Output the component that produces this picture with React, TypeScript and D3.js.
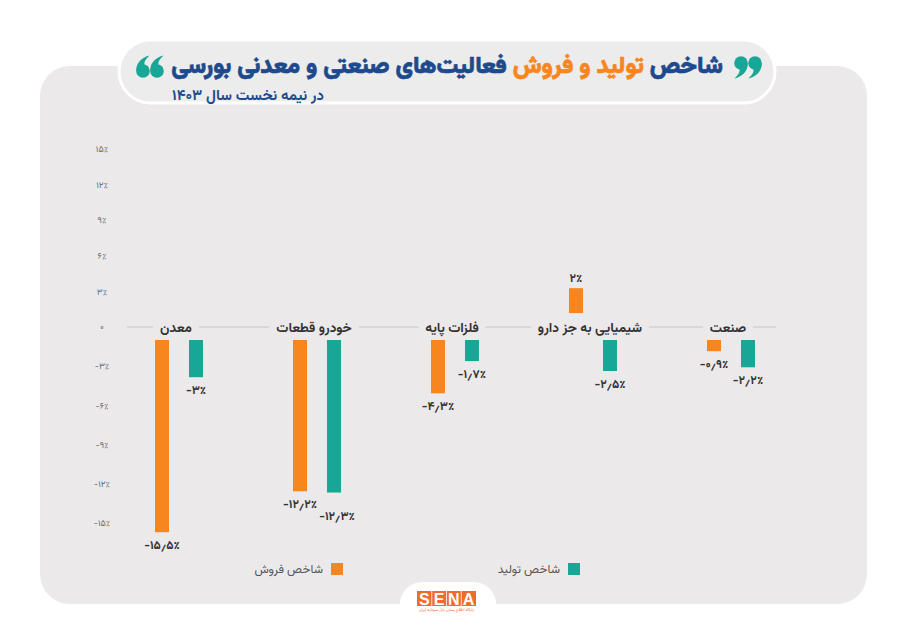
import React, { useEffect, useRef } from 'react';
import * as d3 from 'd3';

const categories = ['معدن', 'خودرو قطعات', 'فلزات پایه', 'شیمیایی به جز دارو', 'صنعت'];
const salesValues = [-15.5, -12.2, -4.3, 2, -0.9];
const productionValues = [-3, -12.3, -1.7, -2.5, -2.2];
const seriesKeys = ['sales', 'production'];
const seriesNames = ['شاخص فروش', 'شاخص تولید'];
const tickValues = [15, 12, 9, 6, 3, 0, -3, -6, -9, -12, -15];
const titleParts = ['شاخص ', 'تولید و فروش ', 'فعالیت‌های صنعتی و معدنی بورسی'];
const subtitle = 'در نیمه نخست سال ۱۴۰۳';

const ORANGE = '#f8861f';
const TEAL = '#18a696';
const NAVY = '#1d4a8c';
const CARD = '#ebe9ea';
const FONT = "'Vazirmatn','Noto Sans Arabic','Noto Naskh Arabic','DejaVu Sans',sans-serif";

const fa = (s: string) => s.replace(/[0-9]/g, (d) => '۰۱۲۳۴۵۶۷۸۹'[+d]).replace('.', '٫');
const fmtPct = (v: number) => (v === 0 ? '۰' : (v < 0 ? '-' : '') + fa(String(Math.abs(v))) + '٪');

// a "9"-shaped quotation mark centred on the blob at (0,0)
const quotePath = (() => {
  const p = d3.path();
  p.moveTo(6.8, 0);
  p.bezierCurveTo(6.8, 9, 1, 13.5, -6.5, 15.5);
  p.bezierCurveTo(-3, 12, -1, 9.5, -1.5, 6.6);
  p.closePath();
  return p.toString();
})();

export default function App() {
  const ref = useRef<SVGSVGElement | null>(null);

  useEffect(() => {
    const svg = d3.select(ref.current);
    svg.selectAll('*').remove();

    // card
    svg.append('rect').attr('x', 40).attr('y', 66).attr('width', 827).attr('height', 538).attr('rx', 30).attr('fill', CARD);

    // title pill
    svg.append('rect').attr('x', 119).attr('y', 40).attr('width', 656).attr('height', 63).attr('rx', 31.5)
      .attr('fill', '#edecec').attr('stroke', '#ffffff').attr('stroke-width', 3);

    const title = svg.append('text').attr('x', 447).attr('y', 73).attr('text-anchor', 'middle')
      .attr('direction', 'rtl').attr('font-family', FONT).attr('font-weight', 900).attr('font-size', 25)
      .attr('stroke-width', 0.6).attr('paint-order', 'stroke');
    const colors = [NAVY, ORANGE, NAVY];
    titleParts.forEach((p, i) => title.append('tspan').attr('fill', colors[i]).attr('stroke', colors[i]).text(p));
    const tNode = title.node() as SVGTextElement;
    const tw = tNode.getComputedTextLength();
    if (tw > 0) title.attr('font-size', 25 * 552 / tw);

    // quotation marks
    const qG = svg.append('g').attr('fill', TEAL);
    [741, 755].forEach((cx) => {
      const g = qG.append('g').attr('transform', `translate(${cx},63)`);
      g.append('circle').attr('r', 6.8);
      g.append('path').attr('d', quotePath);
    });
    [143, 157].forEach((cx) => {
      const g = qG.append('g').attr('transform', `translate(${cx},71) rotate(180)`);
      g.append('circle').attr('r', 6.8);
      g.append('path').attr('d', quotePath);
    });

    const sub = svg.append('text').attr('x', 248).attr('y', 100).attr('text-anchor', 'middle')
      .attr('direction', 'rtl').attr('font-family', FONT).attr('font-weight', 700).attr('font-size', 14)
      .attr('fill', NAVY).text(subtitle);
    const sw = (sub.node() as SVGTextElement).getComputedTextLength();
    if (sw > 0) sub.attr('font-size', 14 * 152 / sw);

    // y-axis tick labels
    const yAxis = d3.scaleLinear().domain([-15, 0, 15]).range([523, 327, 149]);
    svg.append('g').selectAll('text').data(tickValues).join('text')
      .attr('x', 102).attr('y', (d) => yAxis(d)).attr('dy', '0.35em').attr('text-anchor', 'middle')
      .attr('font-family', FONT).attr('font-size', 9).attr('fill', '#6b6b6b')
      .style('direction', 'ltr').style('unicode-bidi', 'bidi-override')
      .text((d) => fmtPct(d));

    // scales
    const x = d3.scaleBand().domain(categories).range([110, 800]);
    const xs = d3.scaleBand().domain(seriesKeys).range([-24, 24]).paddingInner(0.588);
    const len = d3.scaleLinear().domain([0, 1]).range([0, 12.4]);
    const labelY = 327;
    const negBase = 340;
    const posBase = 313;

    // category line
    svg.append('line').attr('x1', 127).attr('x2', 776).attr('y1', labelY).attr('y2', labelY)
      .attr('stroke', '#c8c8c8').attr('stroke-width', 1.2);

    const catG = svg.append('g');
    categories.forEach((c) => {
      const cx = (x(c) as number) + x.bandwidth() / 2 - 3;
      const bg = catG.append('rect').attr('fill', CARD);
      const t = catG.append('text').attr('x', cx).attr('y', labelY).attr('dy', '0.35em')
        .attr('text-anchor', 'middle').attr('direction', 'rtl').attr('font-family', FONT)
        .attr('font-weight', 700).attr('font-size', 13.5).attr('fill', '#333').text(c);
      const w = (t.node() as SVGTextElement).getComputedTextLength();
      bg.attr('x', cx - w / 2 - 7).attr('y', labelY - 3).attr('width', w + 14).attr('height', 6);
    });

    // bars
    const rows = categories.map((c, i) => ({ c, sales: salesValues[i], production: productionValues[i] }));
    const seriesColor: Record<string, string> = { sales: ORANGE, production: TEAL };
    const barsG = svg.append('g');
    rows.forEach((r) => {
      const labelYs: number[] = [];
      seriesKeys.forEach((k, j) => {
        const v = (r as any)[k] as number;
        const bx = (x(r.c) as number) + x.bandwidth() / 2 + (xs(k) as number);
        const h = len(Math.abs(v));
        const y0 = v < 0 ? negBase : posBase - h;
        barsG.append('rect').attr('x', bx).attr('y', y0).attr('width', xs.bandwidth()).attr('height', h)
          .attr('fill', seriesColor[k]);
        let ly = v < 0 ? negBase + h + 17 : posBase - h - 6;
        if (j === 1 && v < 0 && labelYs[0] !== undefined && Math.abs(ly - labelYs[0]) < 12) {
          ly = labelYs[0] + 12;
        }
        labelYs.push(ly);
        barsG.append('text').attr('x', bx + xs.bandwidth() / 2 + (j === 1 && Math.abs(ly - (negBase + h + 17)) > 0.1 ? 3 : 0))
          .attr('y', ly)
          .attr('text-anchor', 'middle').attr('font-family', FONT).attr('font-weight', 700)
          .attr('font-size', 12).attr('fill', '#333')
          .style('direction', 'ltr').style('unicode-bidi', 'bidi-override')
          .text(fmtPct(v));
      });
    });

    // legend
    const legendX = [337, 574];
    seriesKeys.forEach((k, i) => {
      svg.append('rect').attr('x', legendX[i] - 6).attr('y', 563).attr('width', 12).attr('height', 12)
        .attr('fill', seriesColor[k]);
      svg.append('text').attr('x', legendX[i] - 14).attr('y', 573).attr('text-anchor', 'end')
        .attr('font-family', FONT).attr('font-size', 12).attr('fill', '#555')
        .style('direction', 'ltr').text(seriesNames[i]);
    });

    // logo tab
    svg.append('rect').attr('x', 400).attr('y', 582).attr('width', 96).attr('height', 80).attr('rx', 22).attr('fill', '#ffffff');
    svg.append('rect').attr('x', 417).attr('y', 591).attr('width', 59).attr('height', 15).attr('fill', '#f26b2a');
    'SENA'.split('').forEach((ch, i) => {
      svg.append('text').attr('x', 417 + 59 / 8 + (i * 59) / 4).attr('y', 604.5).attr('text-anchor', 'middle')
        .attr('font-family', "'Liberation Sans',Arial,sans-serif").attr('font-weight', 700).attr('font-size', 16)
        .attr('fill', '#fff').text(ch);
      if (i > 0) {
        svg.append('line').attr('x1', 417 + (i * 59) / 4).attr('x2', 417 + (i * 59) / 4).attr('y1', 591).attr('y2', 606)
          .attr('stroke', '#fff').attr('stroke-width', 0.8);
      }
    });
    svg.append('text').attr('x', 446.5).attr('y', 611).attr('text-anchor', 'middle').attr('direction', 'rtl')
      .attr('font-family', FONT).attr('font-size', 4).attr('fill', '#f26b2a')
      .text('پایگاه اطلاع رسانی بازار سرمایه ایران');
  }, []);

  return (
    <div style={{ position: 'absolute', left: 0, top: 0, width: 900, height: 636, background: '#fff' }}>
      <svg ref={ref} width={900} height={636} style={{ display: 'block' }} />
    </div>
  );
}
